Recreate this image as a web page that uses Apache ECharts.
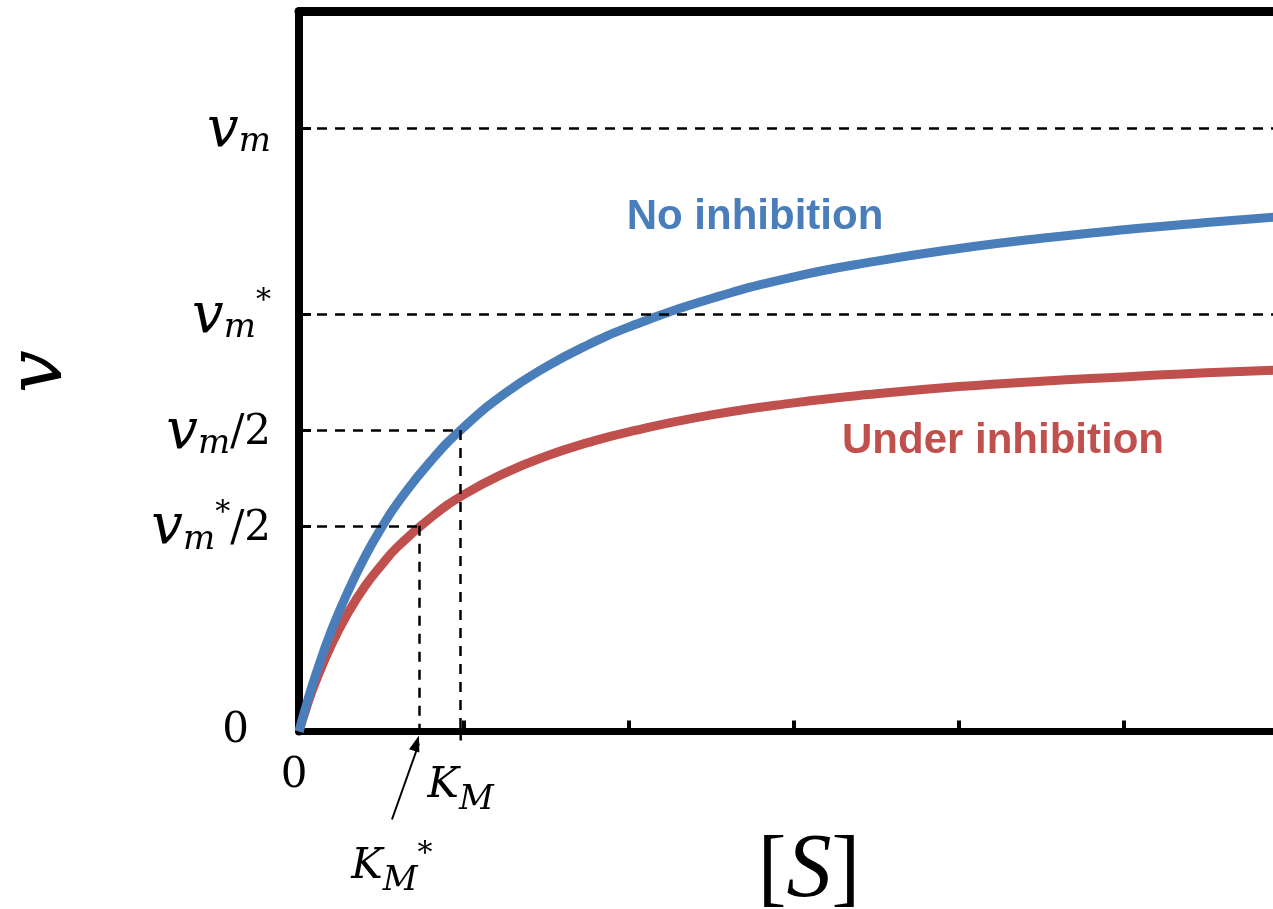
<!DOCTYPE html>
<html>
<head>
<meta charset="utf-8">
<title>Michaelis-Menten</title>
<script src="https://cdn.jsdelivr.net/npm/echarts@6/dist/echarts.min.js"></script>
<style>
  html, body { margin: 0; padding: 0; background: #fff; }
  #main { width: 1273px; height: 909px; }
</style>
</head>
<body>
<div id="main"></div>
<script>
'use strict';
// substrate concentration [S], one axis tick = one unit
var sValues = [0, 0.05, 0.1, 0.2, 0.3, 0.4, 0.5, 0.6, 0.8, 1.0, 1.25, 1.5, 1.75, 2, 2.5, 3, 3.5, 4, 4.5, 5, 5.5, 6];
// reaction rate v, in units of vm
var vNoInhibition = [0, 0.049, 0.093, 0.170, 0.234, 0.290, 0.338, 0.380, 0.449, 0.505, 0.561, 0.605, 0.641, 0.671, 0.718, 0.754, 0.780, 0.801, 0.818, 0.832, 0.844, 0.855];
var vUnderInhibition = [0, 0.044, 0.082, 0.146, 0.198, 0.241, 0.276, 0.307, 0.355, 0.393, 0.429, 0.457, 0.479, 0.497, 0.525, 0.545, 0.560, 0.572, 0.581, 0.588, 0.595, 0.600];

// levels marked on the axes
var vm = 1, vmStar = 0.692, vmHalf = 0.5, vmStarHalf = 0.341;
var km = 0.98, kmStar = 0.727;
var yTickValues = [0, vmStarHalf, vmHalf, vmStar, vm];
var yTickLabels = ['{zy|0}', '{v|v}{s|m}{p|*}{d|/2}', '{v|v}{s|m}{d|/2}', '{v|v}{s|m}{p|*}', '{v|v}{s|m}'];
var xTickValues = [0, km];
var xTickLabels = ['{zx|0}', '{k|K}{s|M}'];

var serif = 'DejaVu Serif';
var mathRich = {
  v: { fontFamily: serif, fontStyle: 'italic', fontSize: 56, color: '#000', padding: [6, 0, 0, 0] },
  k: { fontFamily: serif, fontStyle: 'italic', fontSize: 42, color: '#000' },
  s: { fontFamily: serif, fontStyle: 'italic', fontSize: 34, color: '#000', padding: [28, 0, 0, 0] },
  p: { fontFamily: serif, fontSize: 30, color: '#000', padding: [0, 0, 26, 0] },
  d: { fontFamily: serif, fontSize: 42, color: '#000', padding: [6, 0, 0, 0] },
  zy: { fontFamily: serif, fontSize: 42, color: '#000', padding: [0, 22, 0, 0] },
  zx: { fontFamily: serif, fontSize: 42, color: '#000', padding: [0, 10, 0, 0] }
};

function pickLabel(values, labels, value) {
  for (var i = 0; i < values.length; i++) {
    if (Math.abs(values[i] - value) < 1e-6) return labels[i];
  }
  return '';
}
function pairs(xs, ys) {
  return xs.map(function(x, i) { return [x, ys[i]]; });
}

var chart = echarts.init(document.getElementById('main'));
var dash = { color: '#000', width: 2.5, type: [10, 8] };

chart.setOption({
  animation: false,
  backgroundColor: '#fff',
  grid: { left: 299, right: -16, top: 11.5, bottom: 177.5, containLabel: false, outerBoundsMode: 'none' },
  xAxis: [{
    type: 'value',
    min: 0,
    max: 6,
    interval: 1,
    name: '{b|[}{S|S}{b|]}',
    nameLocation: 'middle',
    nameGap: 96,
    nameMoveOverlap: false,
    nameTextStyle: {
      padding: [0, 0, 0, 30],
      rich: {
        b: { fontFamily: 'Liberation Serif', fontSize: 86, color: '#000' },
        S: { fontFamily: 'Liberation Serif', fontStyle: 'italic', fontSize: 90, color: '#000' }
      }
    },
    splitLine: { show: false },
    axisLine: { lineStyle: { color: '#000', width: 7 } },
    axisTick: { inside: true, length: 11, lineStyle: { color: '#000', width: 4 } },
    axisLabel: {
      customValues: xTickValues,
      margin: 24,
      formatter: function(value) { return pickLabel(xTickValues, xTickLabels, value); },
      rich: mathRich
    }
  }, {
    type: 'value',
    position: 'top',
    min: 0,
    max: 6,
    splitLine: { show: false },
    axisLine: { lineStyle: { color: '#000', width: 9 } },
    axisTick: { show: false },
    axisLabel: { show: false }
  }],
  yAxis: {
    type: 'value',
    min: 0,
    max: 1.194,
    name: '{v|v}',
    nameLocation: 'middle',
    nameRotate: 90,
    nameGap: 220,
    nameMoveOverlap: false,
    nameTextStyle: {
      padding: [0, 0, 0, 0],
      rich: { v: { fontFamily: serif, fontStyle: 'italic', fontSize: 76, color: '#000' } }
    },
    splitLine: { show: false },
    axisLine: { lineStyle: { color: '#000', width: 8 } },
    axisTick: {
      inside: true,
      length: 12,
      customValues: [vmStarHalf, vmHalf, vmStar, vm],
      lineStyle: { color: '#000', width: 3 }
    },
    axisLabel: {
      customValues: yTickValues,
      margin: 28,
      formatter: function(value) { return pickLabel(yTickValues, yTickLabels, value); },
      rich: mathRich
    }
  },
  series: [{
    name: 'guides',
    type: 'line',
    data: [],
    z: 1,
    markLine: {
      silent: true,
      symbol: 'none',
      label: { show: false },
      lineStyle: dash,
      data: [
        [{ coord: [0, vm] }, { coord: [6, vm] }],
        [{ coord: [0, vmStar] }, { coord: [6, vmStar] }],
        [{ coord: [0, vmHalf] }, { coord: [km, vmHalf] }],
        [{ coord: [km, vmHalf] }, { coord: [km, 0] }],
        [{ coord: [0, vmStarHalf] }, { coord: [kmStar, vmStarHalf] }],
        [{ coord: [kmStar, vmStarHalf] }, { coord: [kmStar, 0] }]
      ]
    }
  }, {
    name: 'No inhibition',
    type: 'line',
    z: 3,
    smooth: true,
    showSymbol: false,
    data: pairs(sValues, vNoInhibition),
    lineStyle: { color: '#4A7EBB', width: 9 },
    itemStyle: { color: '#4A7EBB' }
  }, {
    name: 'Under inhibition',
    type: 'line',
    z: 2,
    smooth: true,
    showSymbol: false,
    data: pairs(sValues, vUnderInhibition),
    lineStyle: { color: '#C0504D', width: 9 },
    itemStyle: { color: '#C0504D' }
  }]
});

// curve names, the K_M* pointer and the K_M guide stub below the axis
var tip = chart.convertToPixel({ gridIndex: 0 }, [kmStar, 0]);
var kmFoot = chart.convertToPixel({ gridIndex: 0 }, [km, 0]);
var tail = [tip[0] - 27, tip[1] + 88];
var ang = Math.atan2(tip[1] - tail[1], tip[0] - tail[0]);
function off(len, a) { return [tip[0] - len * Math.cos(a), tip[1] + 4 - len * Math.sin(a)]; }
var headL = off(17, ang - 0.32), headR = off(17, ang + 0.32);

chart.setOption({
  graphic: [{
    type: 'text',
    style: { text: 'No inhibition', x: 755, y: 217, textAlign: 'center', textVerticalAlign: 'middle',
      font: 'bold 42px "Liberation Sans"', fill: '#4A7EBB' }
  }, {
    type: 'text',
    style: { text: 'Under inhibition', x: 1003, y: 441, textAlign: 'center', textVerticalAlign: 'middle',
      font: 'bold 42px "Liberation Sans"', fill: '#C0504D' }
  }, {
    type: 'line',
    shape: { x1: kmFoot[0], y1: kmFoot[1], x2: kmFoot[0], y2: kmFoot[1] + 9 },
    style: { stroke: '#000', lineWidth: 2.5 }
  }, {
    type: 'line',
    shape: { x1: tail[0], y1: tail[1], x2: tip[0], y2: tip[1] + 12 },
    style: { stroke: '#000', lineWidth: 2 }
  }, {
    type: 'polygon',
    shape: { points: [[tip[0], tip[1] + 4], headL, headR] },
    style: { fill: '#000' }
  }, {
    type: 'text',
    style: { text: '{k|K}{s|M}{p|*}', x: tail[0], y: tail[1] + 48, textAlign: 'center', textVerticalAlign: 'middle',
      rich: mathRich }
  }]
});
</script>
</body>
</html>
